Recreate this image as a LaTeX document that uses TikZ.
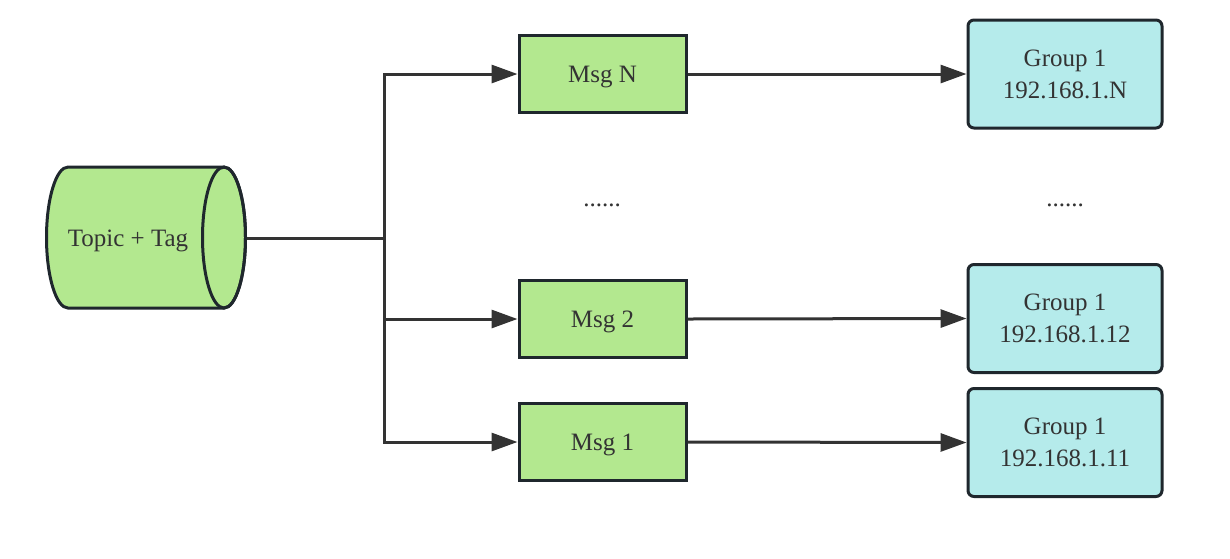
\documentclass[tikz,border=0pt]{standalone}
\usepackage{fontspec}
\setmainfont{Liberation Serif}
\usetikzlibrary{arrows.meta}
\definecolor{msgfill}{HTML}{B3E88F}
\definecolor{grpfill}{HTML}{B5EBEB}
\definecolor{edgeink}{HTML}{1F272D}
\definecolor{lineink}{HTML}{333333}
\definecolor{textink}{HTML}{333333}
\begin{document}
\begin{tikzpicture}[x=1pt,y=-1pt,
  label text/.style={text=textink, font=\fontsize{25}{32}\selectfont},
  msgbox/.style={draw=edgeink, fill=msgfill, line width=3pt, minimum width=167pt, minimum height=77pt, inner sep=0pt, text height=20pt, text depth=4pt, label text},
  grpbox/.style={draw=edgeink, fill=grpfill, line width=3pt, rounded corners=6pt, minimum width=194pt, minimum height=108pt, inner sep=0pt, align=center, label text},
  link/.style={draw=lineink, line width=3pt, -{Triangle[length=26pt,width=18pt]}},
  plain/.style={draw=lineink, line width=3pt},
  dots/.style={label text}]
\useasboundingbox (0,0) rectangle (1230,558);

% storage cylinder (y axis points down, so angle -90 is the top)
\filldraw[draw=edgeink, fill=msgfill, line width=3pt]
  (68,167) -- (224,167) arc[start angle=-90, end angle=90, x radius=21.5, y radius=70.5]
  -- (68,308) arc[start angle=90, end angle=270, x radius=21.5, y radius=70.5] -- cycle;
\draw[edgeink, line width=3pt] (224,237.5) ellipse[x radius=21.5, y radius=70.5];
\node[label text, text height=20pt, text depth=4pt] (topic) at (128,238) {Topic + Tag};
\coordinate (topicout) at (247,238);
\coordinate (split) at (384,238);

% messages
\node[msgbox] (msgN) at (602.5,74) {Msg N};
\node[msgbox] (msg2) at (602.5,319) {Msg 2};
\node[msgbox] (msg1) at (602.5,442) {Msg 1};

% consumer groups
\node[grpbox] (grpN) at (1065,74) {Group 1\\192.168.1.N};
\node[grpbox] (grp2) at (1065,318.5) {Group 1\\192.168.1.12};
\node[grpbox] (grp1) at (1065,442.5) {Group 1\\192.168.1.11};

\node[dots] (dotsA) at (602,205) {......};
\node[dots] (dotsB) at (1065,205) {......};

% fan-out
\draw[plain] (topicout) -- (split);
\draw[plain, line cap=rect] (split |- msgN) -- (split |- msg1);
\draw[link] (split |- msgN) -- (msgN.west);
\draw[link] (split |- msg2) -- (msg2.west);
\draw[link] (split |- msg1) -- (msg1.west);

% delivery
\draw[link] (msgN.east) -- (grpN.west);
\draw[link] (msg2.east) -- (grp2.west);
\draw[link] (msg1.east) -- (grp1.west);
\end{tikzpicture}
\end{document}
